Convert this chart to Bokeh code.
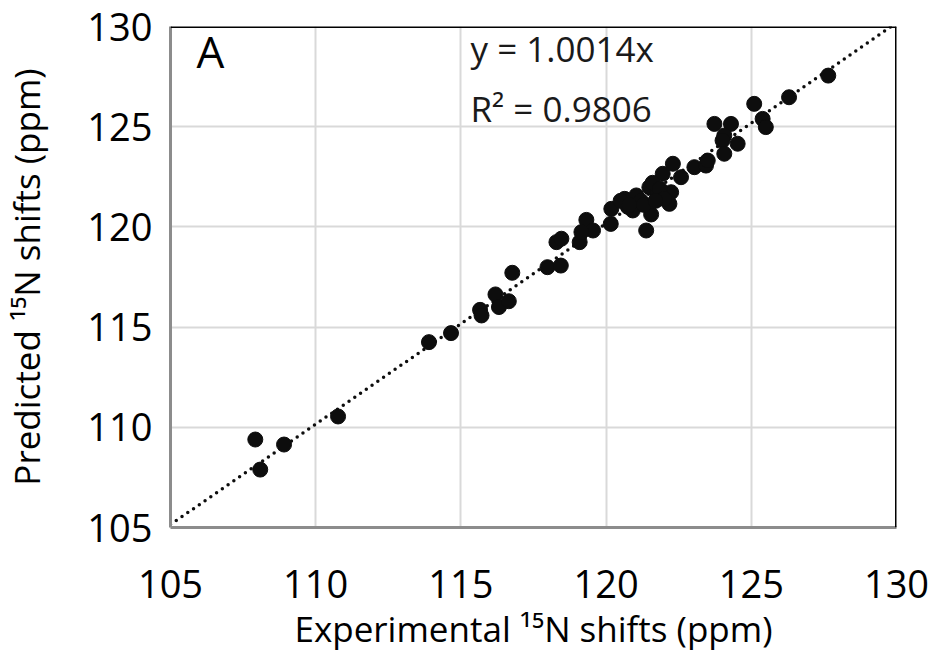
from bokeh.plotting import figure
from bokeh.models import Range1d, Span, Label, ColumnDataSource
from bokeh.embed import file_html
from bokeh.resources import INLINE

# Data: experimental vs predicted 15N shifts (ppm)
experimental = [107.92, 108.09, 108.91, 110.77, 113.90, 114.66, 115.66, 115.71, 116.19, 116.31,
                116.65, 116.77, 117.98, 118.44, 118.29, 118.46, 119.09, 119.32, 119.55, 119.15,
                120.16, 120.18, 120.64, 120.92, 121.04, 121.38, 121.55, 121.49, 121.78, 121.95,
                122.18, 122.24, 122.58, 122.30, 123.04, 123.44, 123.73, 124.30, 124.07, 124.53,
                124.01, 124.07, 123.50, 125.10, 125.39, 125.50, 126.30, 127.65,
                120.75, 121.20, 121.60, 121.85, 121.30, 120.50, 122.00, 121.70, 120.80]
predicted = [109.39, 107.89, 109.14, 110.54, 114.25, 114.70, 115.86, 115.58, 116.63, 116.00,
             116.29, 117.71, 117.99, 118.07, 119.24, 119.41, 119.24, 120.35, 119.82, 119.74,
             120.15, 120.90, 121.40, 120.82, 121.57, 119.82, 120.62, 121.98, 121.65, 122.65,
             121.15, 121.73, 122.48, 123.15, 122.98, 123.06, 125.14, 125.14, 124.56, 124.15,
             124.31, 123.65, 123.31, 126.14, 125.39, 124.98, 126.47, 127.55,
             121.00, 121.30, 122.20, 121.90, 121.10, 121.30, 121.40, 121.30, 121.10]

slope = 1.0014
r_squared = 0.9806
axis_min, axis_max = 105, 130
tick_values = [105, 110, 115, 120, 125, 130]

FONT = "Open Sans"

p = figure(width=934, height=656, output_backend="svg", toolbar_location=None,
           x_range=Range1d(axis_min, axis_max), y_range=Range1d(axis_min, axis_max),
           min_border_left=168, min_border_right=38, min_border_top=26, min_border_bottom=129)

p.background_fill_color = "white"
p.border_fill_color = "white"
p.outline_line_color = None

# grid
p.xgrid.ticker = tick_values
p.ygrid.ticker = tick_values
p.xgrid.grid_line_color = "#d9d9d9"
p.ygrid.grid_line_color = "#d9d9d9"
p.xgrid.grid_line_width = 2
p.ygrid.grid_line_width = 2

# axes
for ax in (p.xaxis[0], p.yaxis[0]):
    ax.ticker = tick_values
    ax.axis_line_color = "#8c8c8c"
    ax.axis_line_width = 3
    ax.major_tick_line_color = None
    ax.minor_tick_line_color = None
    ax.major_label_text_font = FONT
    ax.major_label_text_font_size = "38px"
    ax.major_label_text_color = "#000000"
    ax.axis_label_text_font = FONT
    ax.axis_label_text_font_size = "35px"
    ax.axis_label_text_font_style = "normal"
    ax.axis_label_text_color = "#000000"

p.xaxis.axis_label = "Experimental \u00b9\u2075N shifts (ppm)"
p.yaxis.axis_label = "Predicted \u00b9\u2075N shifts (ppm)"
p.xaxis.major_label_standoff = 36
p.xaxis.axis_label_standoff = 4
p.yaxis.major_label_standoff = 12
p.yaxis.axis_label_standoff = 34

# black top and right borders
p.add_layout(Span(location=axis_max, dimension="width", line_color="black", line_width=3))
p.add_layout(Span(location=axis_max, dimension="height", line_color="black", line_width=3))

# trendline
trend_x = [axis_min, axis_max]
trend_y = [slope * v for v in trend_x]
p.line(trend_x, trend_y, line_color="#0d0d0d", line_width=3.5, line_dash="0 7", line_cap="round")

# points
src = ColumnDataSource(dict(x=experimental, y=predicted))
p.scatter("x", "y", source=src, size=15, fill_color="#0d0d0d", line_color="#0d0d0d")

# annotations
p.add_layout(Label(x=26, y=447, x_units="screen", y_units="screen", text="A",
                   text_font=FONT, text_font_size="44px", text_color="black"))
p.add_layout(Label(x=300, y=456, x_units="screen", y_units="screen",
                   text=f"y = {slope:.4f}x", text_font=FONT, text_font_size="35px", text_color="#1a1a1a"))
p.add_layout(Label(x=300, y=396, x_units="screen", y_units="screen",
                   text=f"R\u00b2 = {r_squared:.4f}", text_font=FONT, text_font_size="35px", text_color="#1a1a1a"))

open("out.html", "w").write(file_html(p, INLINE))
